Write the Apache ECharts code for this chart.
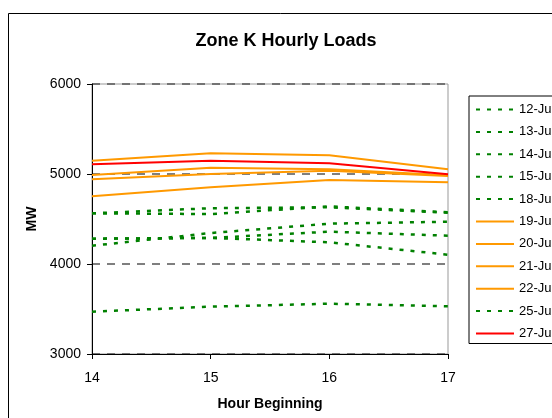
<!DOCTYPE html>
<html>
<head>
<meta charset="utf-8">
<script src="https://cdn.jsdelivr.net/npm/echarts@6/dist/echarts.min.js"></script>
<style>
  html, body { margin: 0; padding: 0; background: #fff; }
  #chart { width: 552px; height: 418px; }
</style>
</head>
<body>
<div id="chart"></div>
<script>
const hours = [14, 15, 16, 17];
const yTicks = [3000, 4000, 5000, 6000];

// green dotted days
const jul12 = [4563, 4620, 4630, 4570];
const jul13 = [4563, 4555, 4640, 4575];
const jul14 = [4203, 4344, 4448, 4470];
const jul15 = [4281, 4290, 4359, 4314];
const jul18 = [4281, 4290, 4241, 4103];
const jul25 = [3470, 3526, 3559, 3530];
// orange days
const jul19 = [5148, 5230, 5208, 5052];
const jul20 = [4989, 5070, 5052, 4985];
const jul21 = [4941, 5000, 5037, 4978];
const jul22 = [4752, 4852, 4933, 4908];
// red day
const jul27 = [5108, 5148, 5119, 4997];

const font = "'Liberation Sans', Arial, sans-serif";

const days = [
  { name: "12-Jul", values: jul12, kind: "green" },
  { name: "13-Jul", values: jul13, kind: "green" },
  { name: "14-Jul", values: jul14, kind: "green" },
  { name: "15-Jul", values: jul15, kind: "green" },
  { name: "18-Jul", values: jul18, kind: "green" },
  { name: "19-Jul", values: jul19, kind: "orange" },
  { name: "20-Jul", values: jul20, kind: "orange" },
  { name: "21-Jul", values: jul21, kind: "orange" },
  { name: "22-Jul", values: jul22, kind: "orange" },
  { name: "25-Jul", values: jul25, kind: "green" },
  { name: "27-Jul", values: jul27, kind: "red" },
];

const lineStyles = {
  green: { color: "#008000", width: 2.5, type: [4, 7] },
  orange: { color: "#FF9900", width: 2, type: "solid" },
  red: { color: "#FF0000", width: 2, type: "solid" },
};

const series = days.map((d) => ({
  name: d.name,
  type: "line",
  data: d.values.map((v, i) => [hours[i], v]),
  symbol: "none",
  itemStyle: { color: lineStyles[d.kind].color },
  lineStyle: lineStyles[d.kind],
  animation: false,
  z: d.kind === "green" ? 2 : 3,
}));

const chart = echarts.init(document.getElementById("chart"));
chart.setOption({
  backgroundColor: "#fff",
  animation: false,
  title: {
    text: "Zone K Hourly Loads",
    left: 286,
    textAlign: "center",
    top: 32,
    padding: 0,
    textStyle: { fontFamily: font, fontSize: 18, fontWeight: "bold", color: "#000" },
  },
  graphic: [
    {
      type: "rect",
      shape: { x: 8.5, y: 13.5, width: 700, height: 600 },
      style: { fill: "none", stroke: "#000", lineWidth: 1 },
      z: -10,
      silent: true,
    },
  ],
  grid: {
    left: 92,
    top: 84,
    width: 356,
    height: 270,
    show: true,
    borderColor: "#999",
    borderWidth: 1,
    backgroundColor: "#fff",
  },
  legend: {
    orient: "vertical",
    left: 469,
    top: 96,
    padding: [7, 60, 3.5, 6],
    borderColor: "#000",
    borderWidth: 1,
    backgroundColor: "#fff",
    itemWidth: 38,
    itemHeight: 13,
    itemGap: 9.4,
    itemStyle: { opacity: 0 },
    textStyle: { fontFamily: font, fontSize: 13, color: "#000" },
    data: days.map((d) => d.name),
  },
  xAxis: {
    type: "value",
    min: hours[0],
    max: hours[hours.length - 1],
    interval: 1,
    name: "Hour Beginning",
    nameLocation: "middle",
    nameGap: 43,
    nameTextStyle: { fontFamily: font, fontSize: 14, fontWeight: "bold", color: "#000" },
    axisLine: { onZero: false, lineStyle: { color: "#000", width: 1 } },
    axisTick: { show: true, length: 5, lineStyle: { color: "#000" } },
    axisLabel: { fontFamily: font, fontSize: 14, color: "#000", margin: 17 },
    splitLine: { show: false },
  },
  yAxis: {
    type: "value",
    min: yTicks[0],
    max: yTicks[yTicks.length - 1],
    interval: 1000,
    name: "MW",
    nameLocation: "middle",
    nameRotate: 90,
    nameGap: 51,
    nameTextStyle: { fontFamily: font, fontSize: 14, fontWeight: "bold", color: "#000" },
    axisLine: { show: true, lineStyle: { color: "#000", width: 1 } },
    axisTick: { show: true, length: 5, lineStyle: { color: "#000" } },
    axisLabel: {
      fontFamily: font,
      fontSize: 14,
      color: "#000",
      margin: 11,
      formatter: (v) => String(v),
    },
    splitLine: { show: true, lineStyle: { color: "#555", width: 1.5, type: [8, 7] } },
  },
  series: series,
});
</script>
</body>
</html>
